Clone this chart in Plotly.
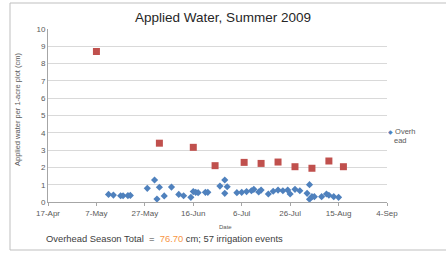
import plotly.graph_objects as go

# Overhead irrigation events (blue diamonds)
overhead_dates = [
    "2009-05-12", "2009-05-14", "2009-05-17", "2009-05-18", "2009-05-20", "2009-05-21",
    "2009-05-28", "2009-05-31", "2009-06-01", "2009-06-02", "2009-06-04", "2009-06-07",
    "2009-06-10", "2009-06-12", "2009-06-15", "2009-06-16", "2009-06-17", "2009-06-18",
    "2009-06-21", "2009-06-22", "2009-06-27", "2009-06-29", "2009-06-29", "2009-06-30",
    "2009-07-04", "2009-07-06", "2009-07-08", "2009-07-10", "2009-07-11", "2009-07-13",
    "2009-07-14", "2009-07-17", "2009-07-19", "2009-07-21", "2009-07-23", "2009-07-25",
    "2009-07-26", "2009-07-28", "2009-07-30", "2009-08-02", "2009-08-03", "2009-08-03",
    "2009-08-04", "2009-08-05", "2009-08-08", "2009-08-10", "2009-08-11", "2009-08-13",
    "2009-08-15",
]
overhead_values = [
    0.44, 0.40, 0.36, 0.36, 0.37, 0.38,
    0.79, 1.27, 0.17, 0.85, 0.35, 0.86,
    0.44, 0.36, 0.27, 0.60, 0.56, 0.54,
    0.56, 0.56, 0.92, 1.27, 0.50, 0.88,
    0.54, 0.56, 0.60, 0.65, 0.73, 0.58,
    0.69, 0.46, 0.62, 0.69, 0.65, 0.69,
    0.46, 0.73, 0.65, 0.50, 1.00, 0.16,
    0.31, 0.31, 0.31, 0.46, 0.39, 0.31,
    0.27,
]

# Weekly totals (red squares)
weekly_dates = [
    "2009-05-07", "2009-06-02", "2009-06-16", "2009-06-25", "2009-07-07", "2009-07-14",
    "2009-07-21", "2009-07-28", "2009-08-04", "2009-08-11", "2009-08-17",
]
weekly_values = [8.7, 3.4, 3.16, 2.1, 2.29, 2.23, 2.31, 2.04, 1.95, 2.37, 2.04]

y_ticks = list(range(0, 11))

FONT = "Liberation Sans"
GRAY = "#595959"

W, H = 446, 254
L, R, T, B = 48, 387, 29, 202
PW, PH = R - L, B - T


def px(x):
    return (x - L) / PW


def py(y):
    return (B - y) / PH


fig = go.Figure()
fig.add_trace(go.Scatter(
    x=weekly_dates, y=weekly_values, mode="markers", showlegend=False,
    marker=dict(symbol="square", size=7, color="#C0504D"),
))
fig.add_trace(go.Scatter(
    x=overhead_dates, y=overhead_values, mode="markers", showlegend=False,
    marker=dict(symbol="diamond", size=5.5, color="#4F81BD"),
))

fig.update_layout(
    width=W, height=H,
    margin=dict(l=L, r=W - R, t=T, b=H - B, autoexpand=False),
    paper_bgcolor="white", plot_bgcolor="white",
    font=dict(family=FONT, color=GRAY, size=8),
    title=dict(text="Applied Water, Summer 2009", x=0.5, xanchor="center",
               y=1 - 17 / H, yanchor="middle",
               font=dict(family=FONT, size=13.5, color="#262626")),
    showlegend=False,
    xaxis=dict(
        type="date", range=["2009-04-17", "2009-09-04"],
        tick0="2009-04-17", dtick=20 * 86400000, tickformat="%-d-%b",
        showgrid=False, showline=True, linecolor="#A6A6A6", linewidth=1,
        ticks="outside", ticklen=3, tickcolor="#A6A6A6",
        tickfont=dict(size=8, color=GRAY), automargin=False,
    ),
    yaxis=dict(
        range=[0, 10], tickvals=y_ticks, showgrid=True, gridcolor="#D9D9D9",
        showline=True, linecolor="#A6A6A6", linewidth=1, zeroline=False,
        tickfont=dict(size=8, color=GRAY), ticks="", automargin=False,
    ),
)

# axis titles
fig.add_annotation(xref="paper", yref="paper", x=px(17), y=py(110),
                   text="Applied water per 1-acre plot (cm)", textangle=-90,
                   showarrow=False, font=dict(size=7.5, color=GRAY),
                   xanchor="center", yanchor="middle")
fig.add_annotation(xref="paper", yref="paper", x=px(225), y=py(227),
                   text="Date", showarrow=False, font=dict(size=6, color=GRAY),
                   xanchor="center", yanchor="middle")

# legend (drawn as text)
fig.add_annotation(xref="paper", yref="paper", x=px(386), y=py(131),
                   text="<span style='color:#4F81BD;font-size:6px'>◆</span> Overh",
                   showarrow=False, font=dict(size=7.5, color=GRAY),
                   xanchor="left", yanchor="middle")
fig.add_annotation(xref="paper", yref="paper", x=px(392), y=py(140),
                   text="ead", showarrow=False, font=dict(size=7.5, color=GRAY),
                   xanchor="left", yanchor="middle")

# season total note
fig.add_annotation(
    xref="paper", yref="paper", x=px(44), y=py(238),
    xanchor="left", yanchor="middle", showarrow=False,
    text=("Overhead Season Total  =  <span style='color:#F79646'>76.70</span>"
          " cm; 57 irrigation events"),
    font=dict(size=9.4, color="#404040"),
)

# outer chart frame (right edge runs off the picture)
fig.add_shape(type="rect", xref="paper", yref="paper",
              x0=px(10), x1=px(450), y0=py(250), y1=py(3),
              line=dict(color="#BFBFBF", width=1), layer="below")

fig.write_html("out.html", config={"displayModeBar": False},
               post_script="document.body.style.margin='0';")
